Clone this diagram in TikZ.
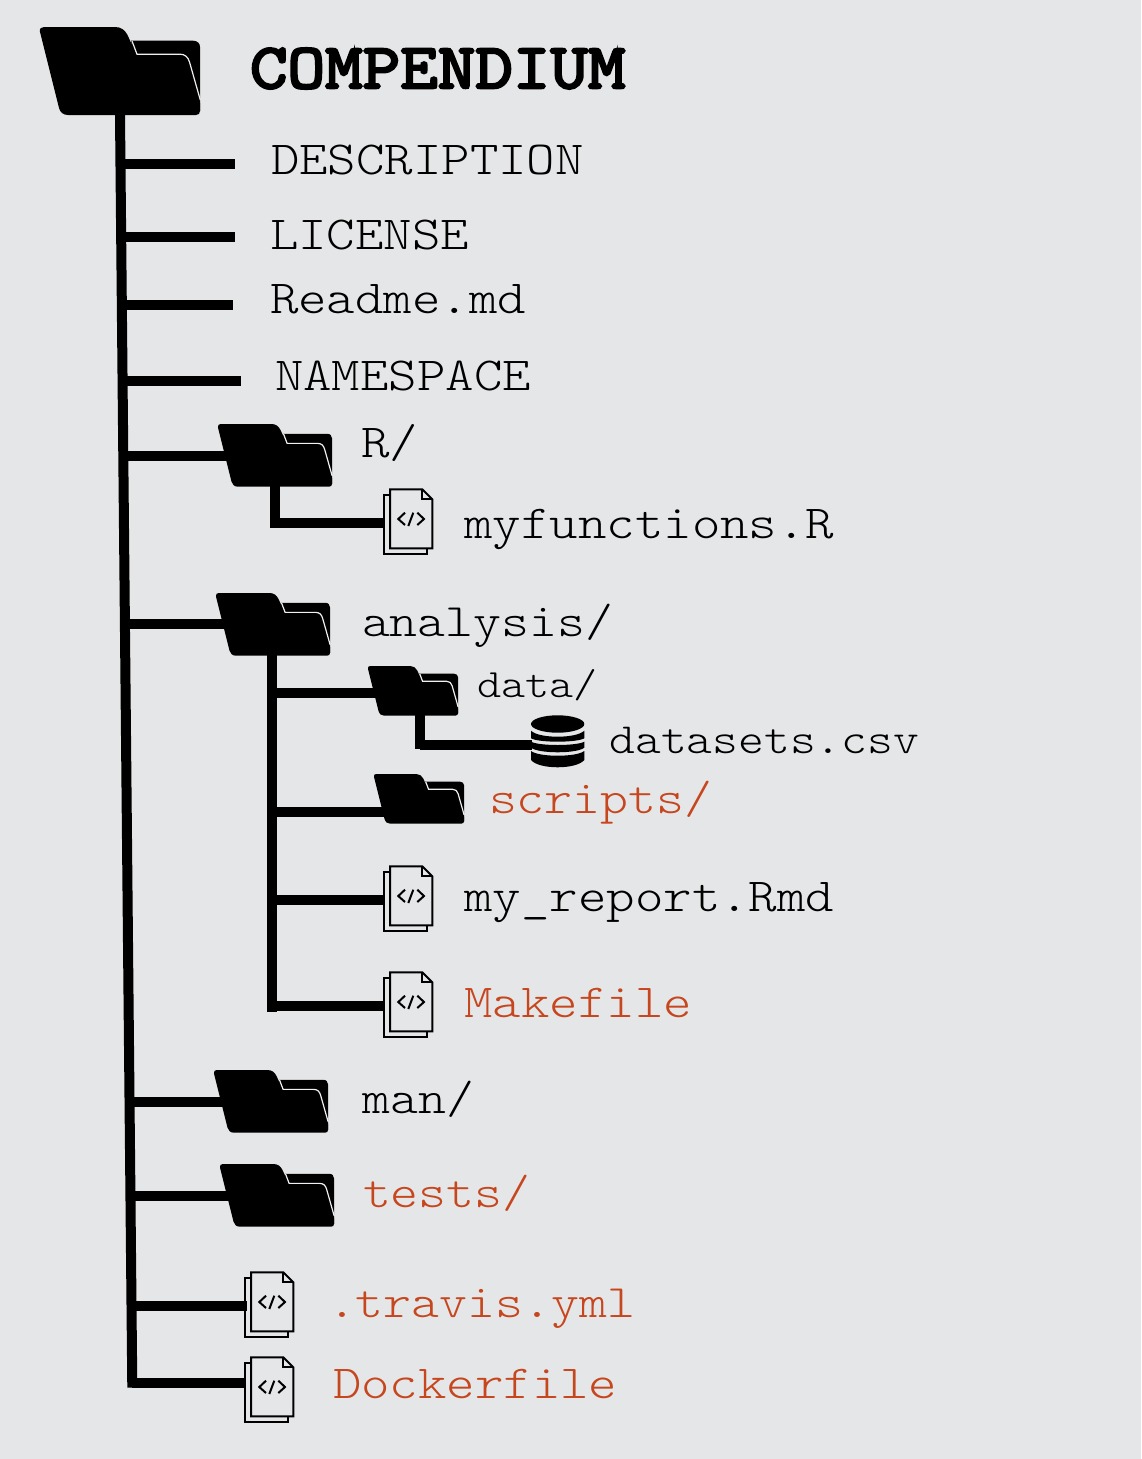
\documentclass[tikz,border=0pt]{standalone}
\usepackage{fontspec}
\setmonofont[FakeStretch=1.143]{Latin Modern Mono Light}
\newfontfamily\rootfont[FakeStretch=1.143,FakeBold=4]{Latin Modern Mono}
\usetikzlibrary{calc}
\definecolor{bgc}{HTML}{E5E6E8}
\definecolor{orng}{HTML}{C6461E}
\tikzset{
  conn/.style={line width=10pt,black},
  trunkline/.style={line width=10pt,black},
  iconbox/.style={inner sep=0pt,outer sep=0pt,anchor=north west},
  lbl/.style={inner sep=0pt,outer sep=0pt,anchor=base west,text=black,font=\ttfamily\fontsize{47.4}{52}\selectfont},
  lblo/.style={lbl,text=orng},
  lblsmall/.style={font=\ttfamily\fontsize{46.5}{52}\selectfont},
  folder/.pic={
    \fill[black] (91,13.7) -- (153,13.7) .. controls (157.5,13.7) and (160,16.5) .. (160,20) -- (160,84) -- (100,84) -- cycle;
    \fill[black] (0,5) .. controls (-0.5,1.5) and (1,0) .. (4,0) -- (75,0) .. controls (81,0) and (85,3) .. (87.5,8)
      -- (96,26.5) -- (140,26.5) .. controls (145,26.5) and (148,29) .. (149.5,34) -- (160,76) -- (160,84) .. controls (160,86.5) and (158.5,88) .. (156,88)
      -- (28,88) .. controls (23,88) and (20,85) .. (19,81) -- cycle;
    \draw[bgc!60!white,line width=1.2pt] (92,14) -- (97,27.2) -- (140,27.2) .. controls (145,27.2) and (148,30) .. (149.5,35) -- (160.3,73);
  },
  filepic/.pic={
    \draw[black,line width=2pt,line join=miter] (6,6) -- (0,6) -- (0,65) -- (43.3,65) -- (43.3,59);
    \draw[black,line width=2pt,fill=bgc,line join=miter] (6,0.3) -- (38.3,0.3) -- (48.3,10.3) -- (48.3,59.3) -- (6,59.3) -- cycle;
    \draw[black,line width=2pt] (38.3,0.3) -- (38.3,10.3) -- (48.3,10.3);
    \draw[black,line width=2pt] (21,23.7) -- (14.3,30) -- (21,36);
    \draw[black,line width=2pt] (29.3,23.7) -- (24.3,37);
    \draw[black,line width=2pt] (33.3,23.7) -- (40,30) -- (33.3,36);
  },
  dbpic/.pic={
    \fill[black] (26.65,9) ellipse [x radius=26.65,y radius=8.7];
    \fill[black] (0,15.7) .. controls (8,23.7) and (45.3,23.7) .. (53.3,15.7) -- (53.3,23.3) .. controls (45.3,27.8) and (8,27.8) .. (0,23.3) -- cycle;
    \fill[black] (0,26.7) .. controls (8,31.1) and (45.3,31.1) .. (53.3,26.7) -- (53.3,32.7) .. controls (45.3,38.8) and (8,38.8) .. (0,32.7) -- cycle;
    \fill[black] (0,36) .. controls (8,42.3) and (45.3,42.3) .. (53.3,36) -- (53.3,45) .. controls (45.3,54.7) and (8,54.7) .. (0,45) -- cycle;
  }
}
\begin{document}
\begin{tikzpicture}[x=1pt,y=-1pt]
\fill[bgc] (0,0) rectangle (1141,1459);
\useasboundingbox (0,0) rectangle (1141,1459);

% icon place holders
\node[iconbox,minimum width=160pt,minimum height=88pt] (root) at (40,27) {};
\node[iconbox,minimum width=114pt,minimum height=62pt] (fR) at (218,424) {};
\node[iconbox,minimum width=114pt,minimum height=62pt] (fAn) at (216,593) {};
\node[iconbox,minimum width=90pt,minimum height=49pt] (fData) at (368,666) {};
\node[iconbox,minimum width=90pt,minimum height=49pt] (fScr) at (374,774) {};
\node[iconbox,minimum width=114pt,minimum height=62pt] (fMan) at (214,1070) {};
\node[iconbox,minimum width=114pt,minimum height=62pt] (fTest) at (220,1164) {};
\node[iconbox,minimum width=49pt,minimum height=66pt] (iFun) at (384,489) {};
\node[iconbox,minimum width=49pt,minimum height=66pt] (iRep) at (384,866) {};
\node[iconbox,minimum width=49pt,minimum height=66pt] (iMk) at (384,972) {};
\node[iconbox,minimum width=49pt,minimum height=66pt] (iTr) at (245,1272) {};
\node[iconbox,minimum width=49pt,minimum height=66pt] (iDk) at (245,1357) {};
\node[iconbox,minimum width=53pt,minimum height=53pt] (iDb) at (531,715) {};

% trunk and its branches
\coordinate (tb) at (132.3,1387.5);
\draw[trunkline] (root.south) -- (tb);
\coordinate (t1) at (121,164.3);  \coordinate (e1) at (235,164.3);
\coordinate (t2) at (121,237);  \coordinate (e2) at (235,237);
\coordinate (t3) at (122,305);  \coordinate (e3) at (233,305);
\coordinate (t4) at (123,381);  \coordinate (e4) at (241,381);
\coordinate (t5) at (124,456);
\coordinate (t6) at (125,624);
\coordinate (t7) at (130,1102);
\coordinate (t8) at (131,1196);
\coordinate (t9) at (131,1306);
\coordinate (t10) at (132,1383);
\foreach \a/\b in {t1/e1,t2/e2,t3/e3,t4/e4} \draw[conn] (\a) -- (\b);
\draw[conn] (t5) -- (t5 -| fR.center);
\draw[conn] (t6) -- (t6 -| fAn.center);
\draw[conn] (t7) -- (t7 -| fMan.center);
\draw[conn] (t8) -- (t8 -| fTest.center);
\draw[conn] (t9) -- ([xshift=2pt]t9 -| iTr.west);
\draw[conn] (t10) -- (t10 -| iDk.west);

% R/
\coordinate (rb) at (275,522.7);
\draw[conn,line join=miter] (fR.south) -- (rb) -- (rb -| iFun.west);

% analysis/
\coordinate (aTop) at (272,650);
\coordinate (aBot) at (272,1012);
\coordinate (a1) at (272,693);
\coordinate (a2) at (272,811.7);
\coordinate (a3) at (272,900);
\coordinate (a4) at (272,1006);
\draw[conn] (aTop) -- (aBot);
\draw[conn] (a1) -- (a1 -| fData.center);
\draw[conn] (a2) -- (a2 -| fScr.center);
\draw[conn] (a3) -- (a3 -| iRep.west);
\draw[conn] (a4) -- (a4 -| iMk.west);

% data/
\coordinate (db) at (420.3,745.3);
\draw[conn] (420.3,710) -- (420.3,749);
\draw[conn] (db) -- ([xshift=1pt]db -| iDb.west);

% icons
\pic at (root.north west) {folder};
\pic[scale=.7125] at (fR.north west) {folder};
\pic[scale=.7125] at (fAn.north west) {folder};
\pic[scale=.5625] at (fData.north west) {folder};
\pic[scale=.5625] at (fScr.north west) {folder};
\pic[scale=.7125] at (fMan.north west) {folder};
\pic[scale=.7125] at (fTest.north west) {folder};
\pic at (iFun.north west) {filepic};
\pic at (iRep.north west) {filepic};
\pic at (iMk.north west) {filepic};
\pic at (iTr.north west) {filepic};
\pic at (iDk.north west) {filepic};
\pic at (iDb.north west) {dbpic};

% labels
\node[lbl,font=\rootfont\fontsize{63.8}{70}\selectfont] (tRoot) at (250,88) {COMPENDIUM};
\node[lbl] (tDesc) at (271,174) {DESCRIPTION};
\node[lbl] (tLic) at (270,249) {LICENSE};
\node[lbl] (tRead) at (270,313.5) {Readme.md};
\node[lbl] (tNs) at (275,390) {NAMESPACE};
\node[lbl] (tR) at (361.5,457) {R/};
\node[lbl] (tFun) at (464.5,538.5) {myfunctions.R};
\node[lbl,lblsmall] (tAn) at (362,636.5) {analysis/};
\node[lbl,font=\ttfamily\fontsize{40.2}{45}\selectfont] (tData) at (477.5,697) {data/};
\node[lbl,font=\ttfamily\fontsize{43}{48}\selectfont] (tCsv) at (609.5,753) {datasets.csv};
\node[lblo,lblsmall] (tScr) at (489,813.5) {scripts/};
\node[lbl] (tRep) at (464.5,911.5) {my\_report.Rmd};
\node[lblo] (tMk) at (464.5,1017.5) {Makefile};
\node[lbl,lblsmall] (tMan) at (362.5,1113.5) {man/};
\node[lblo,lblsmall] (tTest) at (363,1207.5) {tests/};
\node[lblo,lblsmall] (tTr) at (328,1317.5) {.travis.yml};
\node[lblo] (tDk) at (333,1398.5) {Dockerfile};
\end{tikzpicture}
\end{document}
